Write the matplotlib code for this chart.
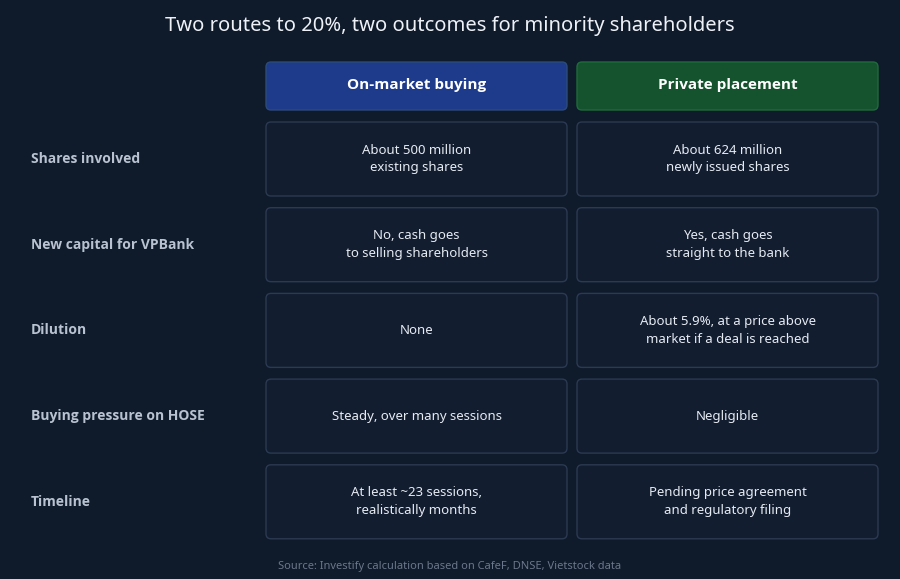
import matplotlib.pyplot as plt
from matplotlib.patches import FancyBboxPatch

plt.rcParams['font.family'] = ['Noto Sans', 'DejaVu Sans']
BOLD_FAMILY = ['Open Sans', 'DejaVu Sans']

title = 'Two routes to 20%, two outcomes for minority shareholders'
headers = ['On-market buying', 'Private placement']
header_colors = ['#1e3a8a', '#14532d']
row_labels = ['Shares involved', 'New capital for VPBank', 'Dilution',
              'Buying pressure on HOSE', 'Timeline']
market_col = ['About 500 million\nexisting shares',
              'No, cash goes\nto selling shareholders',
              'None',
              'Steady, over many sessions',
              'At least ~23 sessions,\nrealistically months']
placement_col = ['About 624 million\nnewly issued shares',
                 'Yes, cash goes\nstraight to the bank',
                 'About 5.9%, at a price above\nmarket if a deal is reached',
                 'Negligible',
                 'Pending price agreement\nand regulatory filing']
source = 'Source: Investify calculation based on CafeF, DNSE, Vietstock data'

bg = '#0f1a2b'
fig = plt.figure(figsize=(9, 5.79), dpi=100, facecolor=bg)
ax = fig.add_axes([0, 0, 1, 1])
ax.set_xlim(0, 900)
ax.set_ylim(579, 0)
ax.axis('off')
ax.set_facecolor(bg)

col_x = [266, 577]
col_w = 301
row_y0 = 122
row_h = 74
row_step = 85.7


def box(x, y, w, h, fc, ec):
    ax.add_patch(FancyBboxPatch((x, y), w, h, boxstyle='round,pad=0,rounding_size=5',
                                fc=fc, ec=ec, lw=1))


ax.text(450, 26, title, ha='center', va='center', color='#eef2f7', fontsize=14.5)

for x, name, c in zip(col_x, headers, header_colors):
    box(x, 62, col_w, 48, c, '#2c4a7a' if c == header_colors[0] else '#1f6b3c')
    ax.text(x + col_w / 2, 85, name, ha='center', va='center', color='white',
            fontsize=11, fontweight='bold', family=BOLD_FAMILY)

for i, label in enumerate(row_labels):
    y = row_y0 + i * row_step
    ax.text(31, y + row_h / 2, label, ha='left', va='center', color='#b8c2d0',
            fontsize=10, fontweight='bold', family=BOLD_FAMILY)
    for x, txt in zip(col_x, [market_col[i], placement_col[i]]):
        box(x, y, col_w, row_h, '#121d30', '#2b3a52')
        ax.text(x + col_w / 2, y + row_h / 2, txt, ha='center', va='center',
                color='#e6ebf2', fontsize=9.5, linespacing=1.5)

ax.text(450, 566, source, ha='center', va='center', color='#6b778a', fontsize=8)

fig.savefig('out.png', dpi=100, facecolor=bg)
